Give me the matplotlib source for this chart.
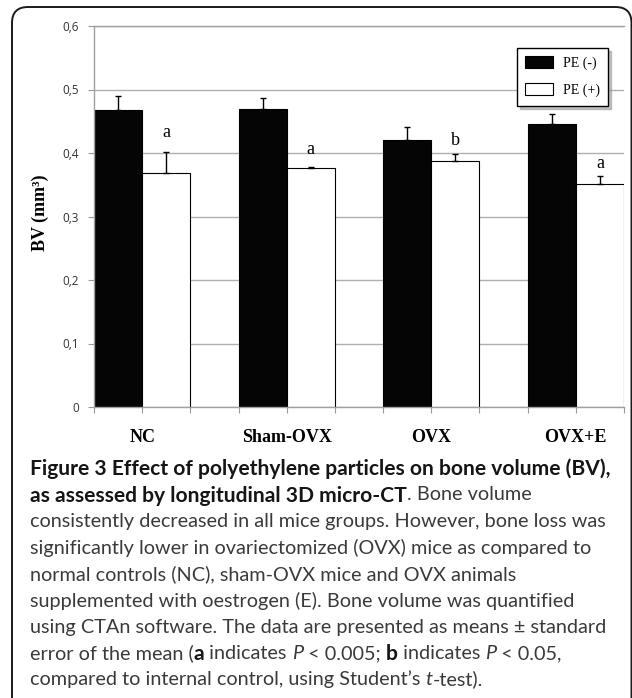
import matplotlib
matplotlib.use("Agg")
import matplotlib.pyplot as plt
import numpy as np
from matplotlib.patches import Patch, FancyBboxPatch
from matplotlib.transforms import IdentityTransform

# ---------------- data ----------------
groups = ["NC", "Sham-OVX", "OVX", "OVX+E"]
pe_minus = [0.468, 0.469, 0.420, 0.446]
pe_minus_err = [0.021, 0.018, 0.021, 0.016]
pe_plus = [0.369, 0.376, 0.388, 0.351]
pe_plus_err = [0.032, 0.002, 0.011, 0.013]
sig_letters = ["a", "a", "b", "a"]
sig_y = [0.4255, 0.3987, 0.4129, 0.3761]
yticks = [0, 0.1, 0.2, 0.3, 0.4, 0.5, 0.6]
ytick_labels = ["0", "0,1", "0,2", "0,3", "0,4", "0,5", "0,6"]
legend_labels = ["PE (-)", "PE (+)"]
ylabel = "BV (mm³)"

caption_lines = [
    [("Figure 3 Effect of polyethylene particles on bone volume (BV),", "bold", "normal")],
    [("as assessed by longitudinal 3D micro-CT", "bold", "normal"), (". Bone volume", "normal", "normal")],
    [("consistently decreased in all mice groups. However, bone loss was", "normal", "normal")],
    [("significantly lower in ovariectomized (OVX) mice as compared to", "normal", "normal")],
    [("normal controls (NC), sham-OVX mice and OVX animals", "normal", "normal")],
    [("supplemented with oestrogen (E). Bone volume was quantified", "normal", "normal")],
    [("using CTAn software. The data are presented as means \u00b1 standard", "normal", "normal")],
    [("error of the mean (", "normal", "normal"), ("a", "bold", "normal"),
     (" indicates ", "normal", "normal"), ("P", "normal", "italic"),
     (" < 0.005; ", "normal", "normal"), ("b", "bold", "normal"),
     (" indicates ", "normal", "normal"), ("P", "normal", "italic"),
     (" < 0.05,", "normal", "normal")],
    [("compared to internal control, using Student\u2019s ", "normal", "normal"),
     ("t", "normal", "italic"), ("-test).", "normal", "normal")],
]

# ---------------- figure ----------------
W, H = 632, 698
fig = plt.figure(figsize=(W / 100, H / 100), dpi=100)
fig.patch.set_facecolor("white")

# rounded frame
frame = FancyBboxPatch((12, -20), 619.5, H - 7 + 20, boxstyle="round,pad=0,rounding_size=16",
                       transform=IdentityTransform(), facecolor="none", edgecolor="#1a1a1a",
                       linewidth=1.4, clip_on=False)
fig.patches.append(frame)

ax = fig.add_axes([94 / W, (H - 407) / H, 530 / W, 381 / H])
ax.set_facecolor("none")

serif = "Liberation Serif"
x0 = np.arange(len(groups)) * 3
ax.bar(x0, pe_minus, width=1, align="edge", color="#050505", edgecolor="#000000",
       linewidth=0.8, zorder=2, label=legend_labels[0])
ax.bar(x0 + 1, pe_plus, width=1, align="edge", color="white", edgecolor="#000000",
       linewidth=0.8, zorder=2, label=legend_labels[1])
ax.errorbar(x0 + 0.5, pe_minus, yerr=[np.zeros(len(groups)), pe_minus_err], fmt="none",
            ecolor="black", elinewidth=1.0, capsize=2, capthick=1.0, zorder=3)
ax.errorbar(x0 + 1.5, pe_plus, yerr=[np.zeros(len(groups)), pe_plus_err], fmt="none",
            ecolor="black", elinewidth=1.0, capsize=2, capthick=1.0, zorder=3)
for xi, yi, s in zip(x0 + 1.5, sig_y, sig_letters):
    ax.text(xi, yi, s, ha="center", va="baseline", fontsize=13, family=serif, zorder=4)

ax.set_xlim(0, 11)
ax.set_ylim(0, 0.6)
ax.set_yticks(yticks)
ax.set_yticklabels(ytick_labels, fontsize=8.5, family="Open Sans", color="#333333")
ax.xaxis.remove_overlapping_locs = False
ax.set_xticks(np.arange(0, 12))
ax.set_xticklabels([])
ax.set_xticks(x0 + 1, minor=True)
ax.set_xticklabels(groups, minor=True, fontsize=13, family=serif, fontweight="bold")
ax.tick_params(axis="x", which="minor", length=0, pad=16)
ax.tick_params(axis="x", which="major", length=4, color="#999999", width=0.8)
ax.tick_params(axis="y", which="major", length=4, color="#999999", width=0.8, pad=7)

ax.set_axisbelow(True)
ax.yaxis.grid(True, color="#b0b0b0", linewidth=1.0)
ax.spines["right"].set_visible(False)
for sp in ["left", "bottom", "top"]:
    ax.spines[sp].set_color("#a0a0a0")
    ax.spines[sp].set_linewidth(1.0)

fig.text(40 / W, 1 - 213 / H, ylabel, rotation=90, ha="center", va="center",
         fontsize=13, family=serif, fontweight="bold")

handles = [Patch(facecolor="#050505", edgecolor="black", linewidth=0.8),
           Patch(facecolor="white", edgecolor="black", linewidth=0.8)]
leg = ax.legend(handles, legend_labels, loc="upper left",
                bbox_to_anchor=(517 / W, 1 - 48 / H), bbox_transform=fig.transFigure,
                prop={"family": serif, "size": 10}, frameon=True, fancybox=False,
                edgecolor="black", framealpha=1, borderpad=0.6, handlelength=2.0,
                handleheight=0.95, handletextpad=0.7, labelspacing=0.95, borderaxespad=0,
                shadow={"ox": 2, "oy": -2, "color": "#9a9a9a", "alpha": 0.6})
leg.get_frame().set_linewidth(1.0)
leg.set_zorder(5)

# ---------------- caption ----------------
renderer = fig.canvas.get_renderer()

def text_width(s, size, weight, style):
    t1 = fig.text(0, 0, "x" + s + "x", fontsize=size, family="Lato", fontweight=weight, fontstyle=style)
    t2 = fig.text(0, 0, "xx", fontsize=size, family="Lato", fontweight=weight, fontstyle=style)
    w = t1.get_window_extent(renderer).width - t2.get_window_extent(renderer).width
    t1.remove()
    t2.remove()
    return w

fs0 = 13.0
fs = fs0 * 574.0 / text_width(caption_lines[2][0][0], fs0, "normal", "normal")
fs_bold = fs0 * 579.0 / text_width(caption_lines[0][0][0], fs0, "bold", "normal")
fs_bold = min(fs_bold, fs * 1.06)

line_y = [467, 493.5, 520, 546.5, 573, 599.5, 626, 652, 678]
for segs, yp in zip(caption_lines, line_y):
    xp = 30.0
    for s, weight, style in segs:
        size = fs_bold if weight == "bold" else fs
        col = "#151515" if weight == "bold" else "#3a3a3a"
        fig.text(xp / W, 1 - yp / H, s, fontsize=size, family="Lato", fontweight=weight,
                 fontstyle=style, color=col, ha="left", va="center_baseline")
        xp += text_width(s, size, weight, style)

fig.savefig("out.png", dpi=100, facecolor="white")
